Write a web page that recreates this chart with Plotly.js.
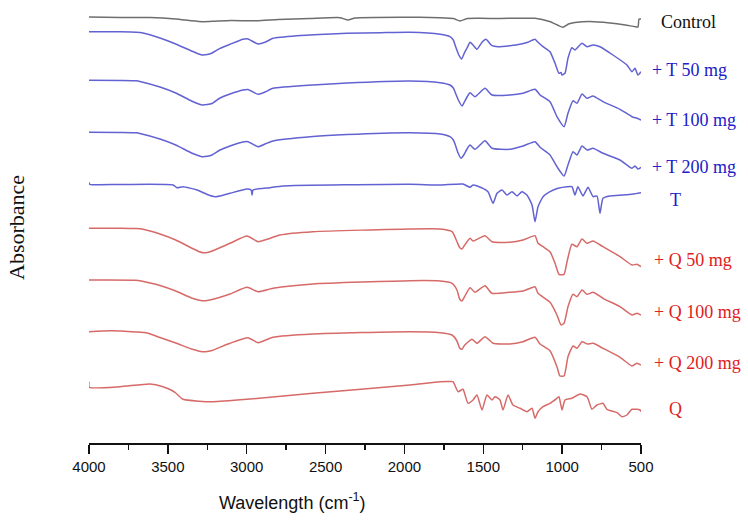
<!DOCTYPE html>
<html>
<head>
<meta charset="utf-8">
<script src="https://cdn.plot.ly/plotly-3.0.1.min.js"></script>
<style>html,body{margin:0;padding:0;background:#fff;}#chart{width:748px;height:524px;}</style>
</head>
<body>
<div id="chart"></div>
<script>
// Wavenumber (cm-1) and stacked absorbance values
const ctrlX = [4000,3800,3613,3450,3350,3277,3200,3100,2935,2800,2600,2409,2358,2313,2028,1774,1690,1648,1600,1521,1394,1172,1080,1030,995,960,919,823,697,600,538,519,513,500];
const ctrlY = [4.260,4.255,4.255,4.240,4.222,4.213,4.218,4.225,4.222,4.235,4.245,4.253,4.230,4.250,4.258,4.253,4.245,4.220,4.245,4.247,4.245,4.247,4.215,4.180,4.157,4.190,4.205,4.215,4.200,4.180,4.163,4.160,4.240,4.240];

const t50X = [4000,3800,3700,3658,3550,3450,3350,3300,3284,3250,3220,3169,3106,3024,2992,2928,2884,2833,2681,2500,2364,2150,1965,1774,1711,1690,1679,1655,1638,1620,1603,1584,1565,1540,1508,1483,1445,1407,1331,1267,1217,1172,1153,1121,1077,1045,1020,1007,1001,982,963,938,919,874,842,804,760,678,589,557,538,519,500];
const t50Y = [4.113,4.112,4.108,4.100,4.050,3.990,3.920,3.888,3.880,3.884,3.900,3.947,3.987,4.037,4.040,3.990,4.007,4.047,4.073,4.088,4.097,4.103,4.107,4.087,4.063,4.030,3.980,3.880,3.840,3.900,3.950,4.007,3.980,3.937,4.007,4.037,3.973,3.963,3.973,3.987,4.007,4.037,4.007,3.963,3.913,3.797,3.697,3.705,3.680,3.697,3.847,3.953,3.930,3.997,3.963,3.980,3.963,3.880,3.780,3.713,3.747,3.680,3.713];

const t100X = [4000,3800,3700,3677,3550,3450,3350,3300,3284,3250,3220,3169,3106,3024,2992,2928,2884,2833,2580,2364,1965,1774,1711,1690,1679,1655,1635,1620,1603,1584,1553,1489,1445,1331,1248,1172,1140,1077,1033,988,963,931,906,874,842,804,741,633,557,525,500];
const t100Y = [3.627,3.625,3.622,3.615,3.560,3.500,3.420,3.388,3.380,3.384,3.395,3.450,3.490,3.530,3.535,3.487,3.510,3.547,3.580,3.600,3.620,3.603,3.580,3.550,3.510,3.420,3.370,3.410,3.460,3.503,3.463,3.547,3.480,3.480,3.497,3.537,3.480,3.413,3.263,3.163,3.297,3.423,3.397,3.490,3.447,3.470,3.413,3.337,3.263,3.247,3.230];

const t200X = [4000,3800,3700,3677,3550,3450,3350,3300,3284,3250,3220,3169,3106,3024,2992,2928,2884,2833,2580,2364,1965,1774,1711,1690,1679,1660,1641,1620,1603,1584,1553,1489,1445,1331,1248,1172,1140,1077,1033,988,963,931,906,874,842,804,741,633,557,538,519,500];
const t200Y = [3.107,3.105,3.102,3.095,3.040,2.980,2.900,2.870,2.863,2.867,2.880,2.930,2.970,3.010,3.013,2.963,2.990,3.020,3.065,3.085,3.103,3.090,3.063,3.030,2.990,2.900,2.847,2.890,2.940,2.980,2.937,3.023,2.947,2.937,2.970,3.013,2.957,2.880,2.763,2.670,2.780,2.913,2.880,2.970,2.930,2.947,2.897,2.830,2.747,2.770,2.740,2.757];

const tX = [4000,3995,3800,3467,3442,3404,3315,3250,3201,3150,3106,2998,2972,2966,2960,2852,2770,1965,1774,1629,1584,1565,1502,1470,1438,1413,1381,1350,1318,1286,1255,1223,1191,1172,1153,1121,1077,1026,969,938,919,900,868,836,804,779,760,741,697,614,551,500];
const tY = [2.607,2.587,2.585,2.580,2.553,2.563,2.530,2.485,2.463,2.478,2.497,2.540,2.530,2.480,2.530,2.553,2.570,2.587,2.580,2.590,2.557,2.580,2.547,2.513,2.397,2.497,2.530,2.480,2.513,2.470,2.513,2.480,2.380,2.213,2.363,2.463,2.513,2.547,2.563,2.563,2.480,2.563,2.470,2.557,2.463,2.470,2.297,2.447,2.470,2.480,2.490,2.503];

const q50X = [4000,3800,3700,3658,3550,3450,3350,3300,3277,3250,3220,3106,2998,2928,2871,2789,2580,1965,1774,1698,1667,1650,1635,1620,1584,1565,1489,1445,1331,1248,1172,1153,1121,1077,1045,1020,988,969,938,906,874,842,804,741,633,557,525,500];
const q50Y = [2.147,2.147,2.144,2.138,2.090,2.030,1.950,1.912,1.903,1.906,1.920,1.997,2.070,2.013,2.037,2.080,2.113,2.140,2.140,2.113,2.013,1.955,1.940,1.975,2.047,2.020,2.073,2.013,2.007,2.030,2.073,1.997,1.963,1.913,1.797,1.687,1.687,1.813,1.987,1.963,2.040,1.997,2.020,1.963,1.863,1.780,1.787,1.763];

const q100X = [4000,3700,3677,3550,3450,3350,3300,3284,3250,3220,3106,2998,2928,2833,2580,1965,1774,1698,1667,1650,1635,1620,1584,1553,1489,1445,1331,1248,1172,1153,1077,1033,1007,988,963,931,906,874,842,804,741,633,557,525,500];
const q100Y = [1.630,1.628,1.622,1.575,1.520,1.450,1.428,1.423,1.426,1.435,1.490,1.557,1.513,1.547,1.590,1.623,1.620,1.597,1.530,1.440,1.420,1.460,1.553,1.507,1.573,1.497,1.507,1.520,1.563,1.497,1.407,1.280,1.180,1.197,1.363,1.487,1.463,1.530,1.487,1.507,1.447,1.363,1.280,1.297,1.280];

const q200X = [4000,3867,3700,3632,3550,3450,3350,3300,3284,3250,3220,3106,2992,2928,2833,2580,1965,1774,1698,1667,1650,1635,1620,1572,1540,1489,1438,1331,1248,1172,1140,1077,1033,1014,988,963,931,906,874,842,804,741,633,557,525,500];
const q200Y = [1.113,1.123,1.110,1.100,1.055,1.000,0.940,0.918,0.913,0.916,0.925,0.997,1.053,1.003,1.057,1.090,1.113,1.103,1.080,1.020,0.950,0.937,0.975,1.037,0.997,1.063,0.997,0.990,1.013,1.057,0.990,0.923,0.763,0.670,0.670,0.863,0.970,0.947,1.013,0.990,0.997,0.947,0.857,0.770,0.797,0.780];

const qX = [4000,3998,3803,3613,3531,3480,3450,3404,3300,3214,2998,2580,1965,1774,1720,1692,1660,1629,1597,1565,1540,1508,1477,1445,1426,1394,1375,1343,1312,1267,1223,1191,1172,1153,1121,1077,1033,1020,1001,982,938,887,842,811,779,741,716,652,620,589,557,506,500];
const qY = [0.613,0.557,0.563,0.590,0.563,0.530,0.500,0.437,0.418,0.413,0.437,0.497,0.580,0.613,0.615,0.613,0.513,0.537,0.397,0.430,0.480,0.330,0.480,0.430,0.463,0.430,0.330,0.480,0.380,0.347,0.313,0.347,0.247,0.313,0.363,0.397,0.447,0.463,0.330,0.430,0.447,0.490,0.463,0.337,0.380,0.397,0.337,0.303,0.263,0.280,0.337,0.330,0.313];

const seriesNames = ["Control","+ T 50 mg","+ T 100 mg","+ T 200 mg","T","+ Q 50 mg","+ Q 100 mg","+ Q 200 mg","Q"];
const xTickVals = [4000,3500,3000,2500,2000,1500,1000,500];

const xs = [ctrlX,t50X,t100X,t200X,tX,q50X,q100X,q200X,qX];
const ys = [ctrlY,t50Y,t100Y,t200Y,tY,q50Y,q100Y,q200Y,qY];
const lineColors = ["#6e6e6e","#6262d2","#6262d2","#6262d2","#6262d2","#d66a68","#d66a68","#d66a68","#d66a68"];
const textColors = ["#111111","#2020c8","#2020c8","#2020c8","#2020c8","#e0201c","#e0201c","#e0201c","#e0201c"];
// label placement (paper x, data y)
const labelPos = [[1.033,4.213],[1.016,3.73],[1.016,3.23],[1.016,2.757],[1.049,2.43],[1.020,1.83],[1.020,1.313],[1.020,0.803],[1.047,0.337]];

const traces = xs.map((x,i)=>({
  x: x, y: ys[i], type:'scatter', mode:'lines', name: seriesNames[i],
  line:{color: lineColors[i], width:1.5, shape:'spline', smoothing:0.5}, hoverinfo:'skip', cliponaxis:false
}));

const annotations = seriesNames.map((n,i)=>({
  text:n, xref:'paper', yref:'y', x:labelPos[i][0], y:labelPos[i][1],
  xanchor:'left', yanchor:'middle', showarrow:false,
  font:{family:'"Liberation Serif", "Times New Roman", serif', size:18, color:textColors[i]}
}));
annotations.push({
  text:'Absorbance', xref:'paper', yref:'paper', x:-0.1304, y:0.491, textangle:-90,
  xanchor:'center', yanchor:'middle', showarrow:false,
  font:{family:'"Liberation Serif", "Times New Roman", serif', size:22, color:'#111'}
});
annotations.push({
  text:'Wavelength (cm<sup>-1</sup>)', xref:'paper', yref:'paper', x:0.368, y:-0.1347,
  xanchor:'center', yanchor:'middle', showarrow:false,
  font:{family:'"Liberation Sans", Arial, sans-serif', size:18, color:'#111'}
});

const layout = {
  width:748, height:524,
  margin:{l:89, r:107, t:5, b:81},
  paper_bgcolor:'#fff', plot_bgcolor:'#fff',
  showlegend:false,
  xaxis:{
    range:[4000,500], tickmode:'array', tickvals:xTickVals, ticktext:xTickVals.map(String),
    ticks:'outside', ticklen:9, tickwidth:1.5, tickcolor:'#111',
    minor:{dtick:250, ticks:'outside', ticklen:5, tickwidth:1.5, tickcolor:'#111', showgrid:false},
    showline:true, linecolor:'#111', linewidth:1.5, showgrid:false, zeroline:false,
    tickfont:{family:'"Liberation Sans", Arial, sans-serif', size:15, color:'#111'}
  },
  yaxis:{range:[0,4.38], showline:false, showticklabels:false, ticks:'', showgrid:false, zeroline:false},
  annotations: annotations
};

Plotly.newPlot('chart', traces, layout, {displayModeBar:false, staticPlot:true});
</script>
</body>
</html>
